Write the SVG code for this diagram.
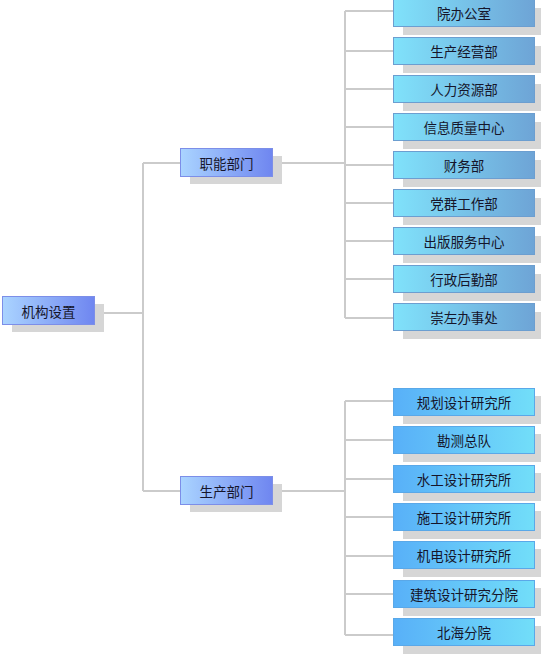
<svg xmlns="http://www.w3.org/2000/svg" width="545" height="663" viewBox="0 0 545 663">
<defs>
<linearGradient id="gLvl" x1="0" y1="0" x2="1" y2="0">
<stop offset="0" stop-color="#aad4ff"/>
<stop offset="1" stop-color="#6f86f0"/>
</linearGradient>
<linearGradient id="gTop" x1="0" y1="0" x2="1" y2="0">
<stop offset="0" stop-color="#80e2fb"/>
<stop offset="1" stop-color="#6ea4d6"/>
</linearGradient>
<linearGradient id="gBot" x1="0" y1="0" x2="1" y2="0">
<stop offset="0" stop-color="#58b0f8"/>
<stop offset="1" stop-color="#72def9"/>
</linearGradient>
</defs>
<style>
.ln{stroke:#cbcbcb;stroke-width:2;fill:none}
.sh{fill:#d6d6d6}
.lv{fill:url(#gLvl);stroke:#7c8ee8;stroke-width:1}
.tp{fill:url(#gTop);stroke:#6c9ed0;stroke-width:1}
.bt{fill:url(#gBot);stroke:#5aa8e8;stroke-width:1}
text{font-family:"Noto Sans CJK SC","Noto Sans",sans-serif;font-size:13.5px;fill:#15152a;text-anchor:middle;dominant-baseline:central}
</style>
<rect width="545" height="663" fill="#ffffff"/>
<g id="connectors">
<path class="ln" d="M94 313H143M143 163V491M143 163H180M143 491H180M272 163H345M272 491H345"/>
<path class="ln" d="M345 11V318M345 11H393M345 51H393M345 89H393M345 127H393M345 165H393M345 203H393M345 241H393M345 279H393M345 318H393"/>
<path class="ln" d="M345 401V635M345 401H393M345 440H393M345 479H393M345 517H393M345 556H393M345 594H393M345 635H393"/>
</g>
<g id="root"><rect class="sh" x="12" y="304" width="92" height="28"/><rect class="lv" x="2.5" y="296.5" width="92" height="28"/><text x="48.5" y="310.5">机构设置</text></g>
<g id="zhineng"><rect class="sh" x="190" y="156" width="92" height="28"/><rect class="lv" x="180.5" y="148.5" width="92" height="28"/><text x="226.5" y="162.5">职能部门</text></g>
<g id="shengchan"><rect class="sh" x="190" y="484" width="92" height="28"/><rect class="lv" x="180.5" y="476.5" width="92" height="28"/><text x="226.5" y="490.5">生产部门</text></g>
<g id="t1"><rect class="sh" x="403" y="8" width="138" height="27"/><rect class="tp" x="393.5" y="-0.5" width="141" height="27"/><text x="464" y="13">院办公室</text></g>
<g id="t2"><rect class="sh" x="403" y="46" width="138" height="27"/><rect class="tp" x="393.5" y="37.5" width="141" height="27"/><text x="464" y="51">生产经营部</text></g>
<g id="t3"><rect class="sh" x="403" y="84" width="138" height="27"/><rect class="tp" x="393.5" y="75.5" width="141" height="27"/><text x="464" y="89">人力资源部</text></g>
<g id="t4"><rect class="sh" x="403" y="122" width="138" height="27"/><rect class="tp" x="393.5" y="113.5" width="141" height="27"/><text x="464" y="127">信息质量中心</text></g>
<g id="t5"><rect class="sh" x="403" y="160" width="138" height="27"/><rect class="tp" x="393.5" y="151.5" width="141" height="27"/><text x="464" y="165">财务部</text></g>
<g id="t6"><rect class="sh" x="403" y="198" width="138" height="27"/><rect class="tp" x="393.5" y="189.5" width="141" height="27"/><text x="464" y="203">党群工作部</text></g>
<g id="t7"><rect class="sh" x="403" y="236" width="138" height="27"/><rect class="tp" x="393.5" y="227.5" width="141" height="27"/><text x="464" y="241">出版服务中心</text></g>
<g id="t8"><rect class="sh" x="403" y="274" width="138" height="27"/><rect class="tp" x="393.5" y="265.5" width="141" height="27"/><text x="464" y="279">行政后勤部</text></g>
<g id="t9"><rect class="sh" x="403" y="312" width="138" height="27"/><rect class="tp" x="393.5" y="303.5" width="141" height="27"/><text x="464" y="317">崇左办事处</text></g>
<g id="b1"><rect class="sh" x="403" y="396" width="138" height="28"/><rect class="bt" x="393.5" y="388.5" width="141" height="27"/><text x="464" y="402">规划设计研究所</text></g>
<g id="b2"><rect class="sh" x="403" y="434" width="138" height="28"/><rect class="bt" x="393.5" y="426.5" width="141" height="27"/><text x="464" y="440">勘测总队</text></g>
<g id="b3"><rect class="sh" x="403" y="473" width="138" height="28"/><rect class="bt" x="393.5" y="465.5" width="141" height="27"/><text x="464" y="479">水工设计研究所</text></g>
<g id="b4"><rect class="sh" x="403" y="511" width="138" height="28"/><rect class="bt" x="393.5" y="503.5" width="141" height="27"/><text x="464" y="517">施工设计研究所</text></g>
<g id="b5"><rect class="sh" x="403" y="549" width="138" height="28"/><rect class="bt" x="393.5" y="541.5" width="141" height="27"/><text x="464" y="555">机电设计研究所</text></g>
<g id="b6"><rect class="sh" x="403" y="588" width="138" height="28"/><rect class="bt" x="393.5" y="580.5" width="141" height="27"/><text x="464" y="594">建筑设计研究分院</text></g>
<g id="b7"><rect class="sh" x="403" y="626" width="138" height="28"/><rect class="bt" x="393.5" y="618.5" width="141" height="27"/><text x="464" y="632">北海分院</text></g>
</svg>
